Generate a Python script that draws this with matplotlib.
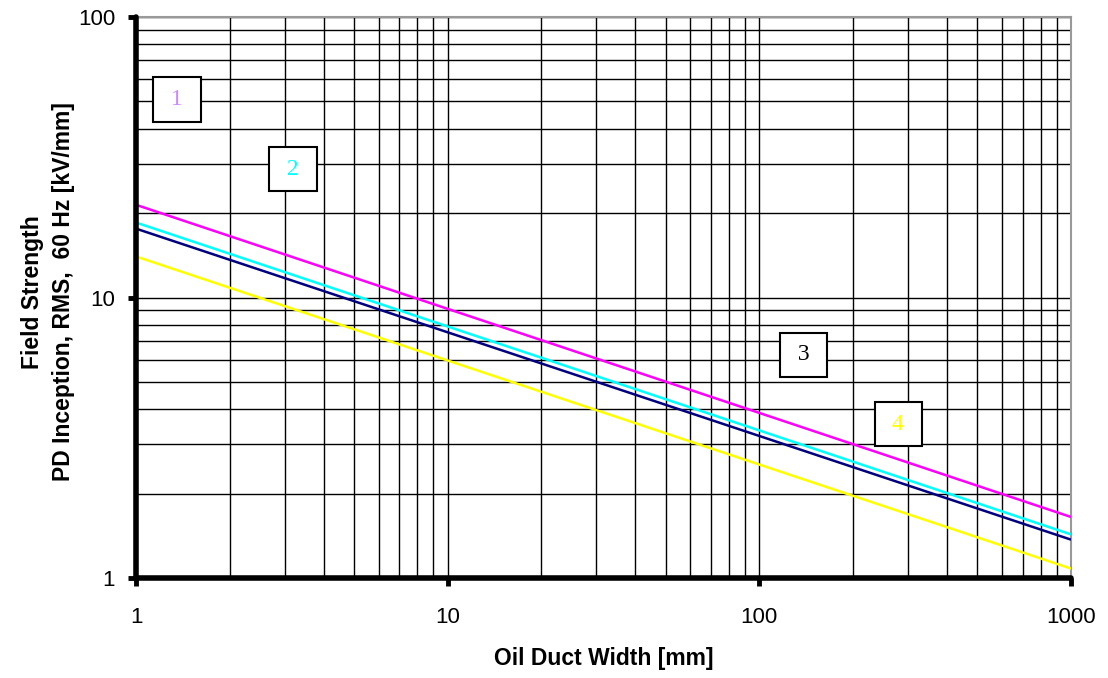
import matplotlib
matplotlib.use("Agg")
import matplotlib.pyplot as plt
from matplotlib.ticker import LogLocator, FixedLocator, NullFormatter

# duct width range and field strength at both ends (straight lines on log-log)
width_mm = [1, 1000]
curve_1 = [21.4, 1.65]   # magenta
curve_2 = [18.5, 1.43]   # cyan
curve_3 = [17.6, 1.37]   # navy
curve_4 = [14.0, 1.08]   # yellow

series = [curve_1, curve_2, curve_3, curve_4]
line_colors = ["#ff00ff", "#00ffff", "#000080", "#ffff00"]

# curve labels: text, position (data coords), text colour
label_text = ["1", "2", "3", "4"]
label_x = [1.354, 3.19, 139, 279]
label_y = [50.8, 28.7, 6.24, 3.54]
label_colors = ["#cc88ff", "#00ffff", "#000000", "#ffff00"]

x_ticks = [1, 10, 100, 1000]
y_ticks = [1, 10, 100]

plt.rcParams["font.family"] = ["Liberation Sans", "DejaVu Sans"]

fig = plt.figure(figsize=(11.08, 6.78), dpi=100)
ax = fig.add_axes([136 / 1108, 1 - 578 / 678, (1071 - 136) / 1108, (578 - 17) / 678])

ax.set_xscale("log")
ax.set_yscale("log")
ax.set_xlim(1, 1000)
ax.set_ylim(1, 100)

ax.grid(True, which="both", color="black", linewidth=1.0, zorder=0)

for vals, c in zip(series, line_colors):
    ax.plot(width_mm, vals, color=c, linewidth=1.8, zorder=3, solid_capstyle="butt")

for t, x, y, c in zip(label_text, label_x, label_y, label_colors):
    ax.text(x, y, " " + t + " ", color=c, fontsize=17,
            family=["Liberation Serif", "DejaVu Serif"],
            ha="center", va="center", zorder=5,
            bbox=dict(boxstyle="square,pad=0.5", facecolor="white",
                      edgecolor="black", linewidth=1.5))

ax.xaxis.set_major_locator(FixedLocator(x_ticks))
ax.yaxis.set_major_locator(FixedLocator(y_ticks))
ax.xaxis.set_minor_locator(LogLocator(base=10, subs=range(2, 10)))
ax.yaxis.set_minor_locator(LogLocator(base=10, subs=range(2, 10)))
ax.xaxis.set_minor_formatter(NullFormatter())
ax.yaxis.set_minor_formatter(NullFormatter())
ax.set_xticklabels([str(v) for v in x_ticks])
ax.set_yticklabels([str(v) for v in y_ticks])

ax.tick_params(which="major", direction="out", length=6, width=3.5, labelsize=16)
ax.tick_params(axis="x", which="major", pad=15)
ax.tick_params(axis="y", which="major", pad=9)
ax.tick_params(which="minor", length=0)

for side in ["left", "bottom"]:
    ax.spines[side].set_linewidth(4)
    ax.spines[side].set_color("black")
    ax.spines[side].set_capstyle("round")
    ax.spines[side].set_zorder(6)
for side in ["top", "right"]:
    ax.spines[side].set_linewidth(1.5)
    ax.spines[side].set_color("#999999")

ax.set_xlabel("Oil Duct Width [mm]", fontsize=16.5, fontweight="bold")
ax.xaxis.set_label_coords(0.5, (578 - 659) / 561)
ax.xaxis.label.set_va("center")

ax.set_ylabel("Field Strength\nPD Inception, RMS,  60 Hz [kV/mm]", fontsize=16.5,
              fontweight="bold", linespacing=1.5)
ax.yaxis.set_label_coords((48 - 136) / 935, (578 - 292) / 561)
ax.yaxis.label.set_va("center")

fig.savefig("out.png", dpi=100)
